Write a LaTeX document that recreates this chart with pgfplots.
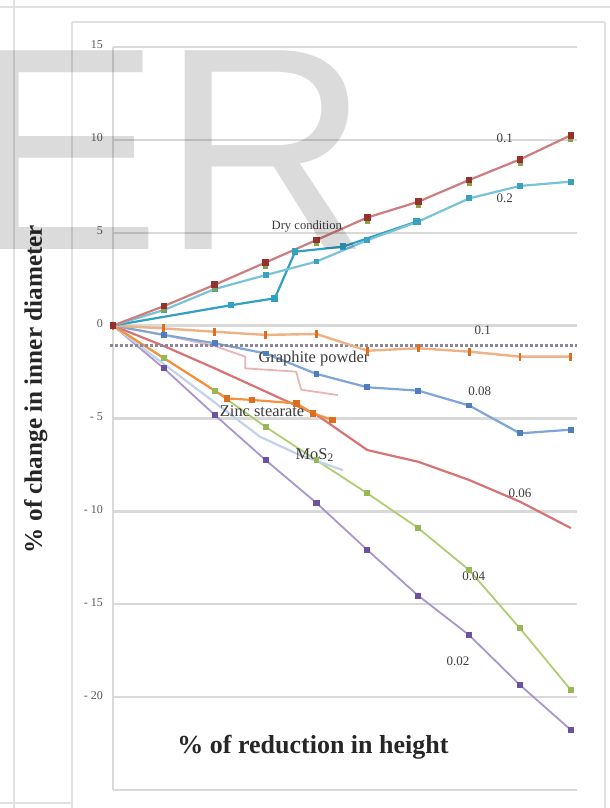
\documentclass[border=0pt]{standalone}
\usepackage{fontspec}
\setmainfont{Liberation Serif}
\newfontfamily\wmfont{Liberation Sans}
\usepackage{pgfplots}
\pgfplotsset{compat=1.18}
\definecolor{gridc}{RGB}{217,217,217}
\definecolor{framec}{RGB}{225,225,225}
\definecolor{redAl}{RGB}{205,125,125}
\definecolor{redAm}{RGB}{150,50,45}
\definecolor{oliveM}{RGB}{140,160,70}
\definecolor{cyanl}{RGB}{120,195,218}
\definecolor{cyanm}{RGB}{60,160,190}
\definecolor{dryc}{RGB}{50,160,195}
\definecolor{orAl}{RGB}{238,178,135}
\definecolor{orAm}{RGB}{220,110,30}
\definecolor{dotc}{RGB}{140,135,155}
\definecolor{bluel}{RGB}{125,165,215}
\definecolor{bluem}{RGB}{80,125,190}
\definecolor{pinkc}{RGB}{232,180,180}
\definecolor{red6}{RGB}{215,115,115}
\definecolor{zincc}{RGB}{245,145,60}
\definecolor{mosc}{RGB}{195,210,235}
\definecolor{greenl}{RGB}{175,205,115}
\definecolor{greenm}{RGB}{150,185,85}
\definecolor{purl}{RGB}{170,150,205}
\definecolor{purm}{RGB}{110,80,160}
\definecolor{labc}{RGB}{60,60,60}
\begin{document}
\begin{tikzpicture}
\useasboundingbox (0,0) rectangle (305pt,404pt);
\fill[white] (0,0) rectangle (305pt,404pt);
% frame lines
\draw[framec, line width=1pt] (0,400.5pt) -- (305pt,400.5pt);
\draw[framec, line width=1pt] (36pt,393pt) -- (302.5pt,393pt);
\draw[framec, line width=1pt] (36pt,393pt) -- (36pt,0pt);
\draw[framec, line width=1pt] (302.5pt,393pt) -- (302.5pt,0pt);
\draw[framec, line width=1pt] (7pt,404pt) -- (7pt,0pt);
\draw[framec, line width=1pt] (0pt,2.5pt) -- (36pt,2.5pt);
\begin{axis}[
  at={(56.5pt,9pt)}, anchor=south west, scale only axis,
  width=232pt, height=371.5pt,
  xmin=0, xmax=9.12, ymin=-25, ymax=15,
  clip=false,
  axis line style={draw=none},
  xtick={0}, xticklabels={},
  ytick={-25,-20,-15,-10,-5,0,5,10,15},
  yticklabels={{},{- 20},{- 15},{- 10},{- 5},{0},{5},{10},{15}},
  major tick length=0pt,
  xmajorgrids, ymajorgrids,
  grid style={gridc, line width=1.2pt},
  yticklabel style={font=\fontsize{6}{7}\selectfont, text=black!65, xshift=-1.5pt, yshift=1pt},
]
% purple 0.02
\addplot[color=purl, line width=0.9pt, mark=square*, mark size=1.1pt, mark options={draw=purm, fill=purm}]
  coordinates {(0,0)(1,-2.3)(2,-4.81)(3,-7.24)(4,-9.55)(5,-12.08)(6,-14.54)(7,-16.66)(8,-19.35)(9,-21.77)};
% green 0.04
\addplot[color=greenl, line width=0.9pt, mark=square*, mark size=1.0pt, mark options={draw=greenm, fill=greenm}]
  coordinates {(0,0)(1,-1.75)(2,-3.5)(3,-5.45)(4,-7.25)(5,-9.03)(6,-10.9)(7,-13.16)(8,-16.3)(9,-19.62)};
% MoS2
\addplot[color=mosc, line width=1.1pt]
  coordinates {(0,0)(2.89,-5.98)(3.67,-6.97)(4.52,-7.78)};
% red 0.06
\addplot[color=red6, line width=1.1pt]
  coordinates {(0,0)(1,-1.1)(2,-2.3)(3,-3.55)(4,-4.8)(5,-6.7)(6,-7.33)(7,-8.31)(8,-9.48)(9,-10.9)};
% zinc stearate
\addplot[color=zincc, line width=1.1pt, mark=square*, mark size=1.1pt, mark options={draw=orAm, fill=orAm}]
  coordinates {(0,0)(2.24,-3.92)(2.73,-4.0)(3.61,-4.19)(3.93,-4.72)(4.32,-5.08)};
% graphite powder
\addplot[color=pinkc, line width=0.9pt]
  coordinates {(0,0)(1,-0.5)(2,-1.1)(2.6,-1.67)(2.6,-2.3)(3.6,-2.48)(3.7,-3.45)(4.42,-3.74)};
% blue 0.08
\addplot[color=bluel, line width=1.1pt, mark=square*, mark size=0.9pt, mark options={draw=bluem, fill=bluem}]
  coordinates {(0,0)(1,-0.5)(2,-0.95)(3,-1.5)(4,-2.6)(5,-3.32)(6,-3.5)(7,-4.3)(8,-5.8)(9,-5.6)};
% dotted 0.1 row
\addplot[color=dotc, line width=1.5pt, dash pattern=on 1.4pt off 1.1pt]
  coordinates {(-0.05,-1.05)(9.12,-1.05)};
% orange near zero
\addplot[color=orAl, line width=1.2pt, mark=|, mark size=2pt, mark options={draw=orAm, line width=1.4pt}]
  coordinates {(0,0)(1,-0.15)(2,-0.33)(3,-0.5)(4,-0.45)(5,-1.35)(6,-1.22)(7,-1.4)(8,-1.67)(9,-1.67)};
% dry condition
\addplot[color=dryc, line width=1.1pt, mark=square*, mark size=1.1pt, mark options={draw=dryc, fill=dryc}]
  coordinates {(0,0)(2.32,1.1)(3.18,1.47)(3.58,3.98)(4.52,4.25)(5.97,5.6)};
% cyan 0.2
\addplot[color=cyanl, line width=1.1pt, mark=square*, mark size=0.9pt, mark options={draw=cyanm, fill=cyanm}]
  coordinates {(0,0)(1,0.84)(2,1.97)(3,2.72)(4,3.45)(5,4.6)(6,5.6)(7,6.85)(8,7.52)(9,7.75)};
% olive marks under 0.1
\addplot[only marks, mark=square*, mark size=1.0pt, mark options={draw=oliveM, fill=oliveM}]
  coordinates {(1,0.85)(2,2.0)(3,3.2)(4,4.41)(5,5.62)(6,6.47)(7,7.64)(8,8.75)(9,10.0)};
% red 0.1
\addplot[color=redAl, line width=1.1pt, mark=square*, mark size=1.1pt, mark options={draw=redAm, fill=redAm}]
  coordinates {(0,0)(1,1.05)(2,2.2)(3,3.4)(4,4.61)(5,5.82)(6,6.67)(7,7.84)(8,8.95)(9,10.25)};
% labels
\begin{scope}[every node/.style={text=labc, inner sep=0.5pt}]
\node[font=\fontsize{6.5}{7}\selectfont] at (axis cs:7.7,10.1) {0.1};
\node[font=\fontsize{6.5}{7}\selectfont] at (axis cs:7.7,6.87) {0.2};
\node[font=\fontsize{6.3}{7}\selectfont] at (axis cs:3.81,5.35) {Dry condition};
\node[font=\fontsize{6.5}{7}\selectfont] at (axis cs:7.27,-0.25) {0.1};
\node[font=\fontsize{8.2}{9}\selectfont] at (axis cs:3.95,-1.75) {Graphite powder};
\node[font=\fontsize{6.5}{7}\selectfont] at (axis cs:7.21,-3.53) {0.08};
\node[font=\fontsize{8.2}{9}\selectfont] at (axis cs:2.93,-4.6) {Zinc stearate};
\node[font=\fontsize{8.2}{9}\selectfont] at (axis cs:3.97,-6.97) {MoS\textsubscript{2}};
\node[font=\fontsize{6.5}{7}\selectfont] at (axis cs:8.0,-9.0) {0.06};
\node[font=\fontsize{6.5}{7}\selectfont] at (axis cs:7.09,-13.5) {0.04};
\node[font=\fontsize{6.5}{7}\selectfont] at (axis cs:6.78,-18.06) {0.02};
\end{scope}
\node[font=\bfseries\fontsize{13}{15}\selectfont, text=black!85] at (axis cs:3.93,-22.7) {\% of reduction in height};
\node[font=\bfseries\fontsize{12.6}{15}\selectfont, text=black!85, rotate=90] at (axis cs:-1.52,-3.41) {\% of change in inner diameter};
\end{axis}
% watermark
\node[anchor=base west, inner sep=0pt, text=black, text opacity=0.14, font=\wmfont\fontsize{144.5pt}{144.5pt}\selectfont] at (-16pt,279pt) {ER};
\end{tikzpicture}
\end{document}
